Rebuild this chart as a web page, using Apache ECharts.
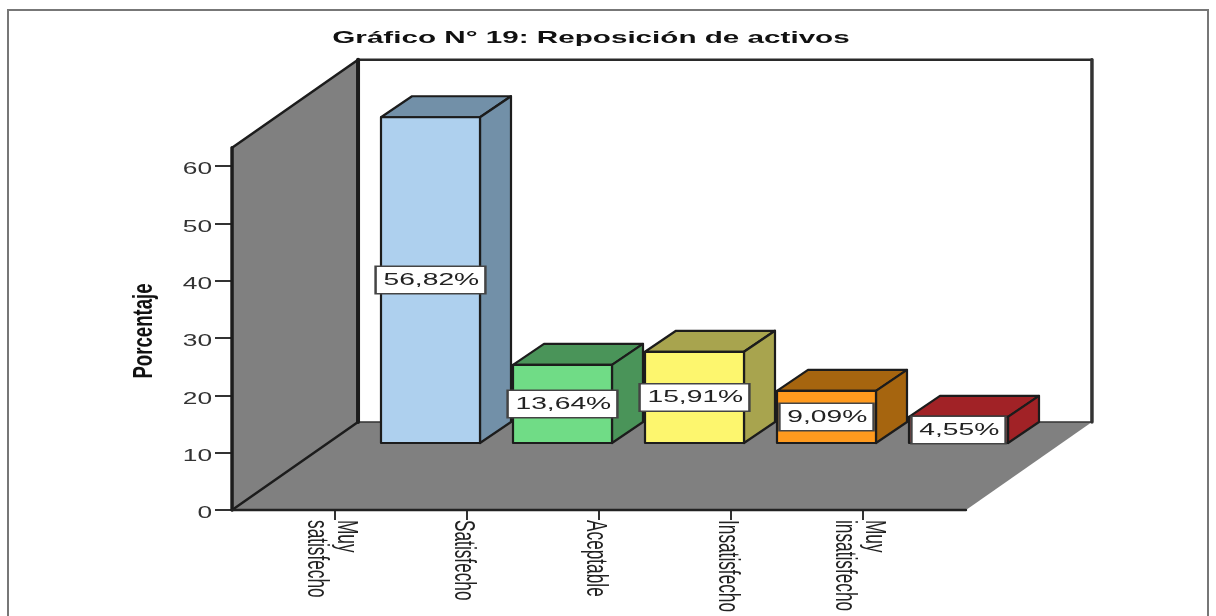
<!DOCTYPE html>
<html>
<head>
<meta charset="utf-8">
<title>Reposición de activos</title>
<style>
  html, body { margin: 0; padding: 0; background: #fff; }
  #chart { width: 1216px; height: 616px; }
</style>
<script src="https://cdn.jsdelivr.net/npm/echarts@6/dist/echarts.min.js"></script>
</head>
<body>
<div id="chart"></div>
<script>
var titleText = 'Gráfico N° 19: Reposición de activos'
var yAxisName = 'Porcentaje'
var categories = ['Muy\nsatisfecho', 'Satisfecho', 'Aceptable', 'Insatisfecho', 'Muy\ninsatisfecho']
var percentages = [56.82, 13.64, 15.91, 9.09, 4.55]
var yTicks = [0, 10, 20, 30, 40, 50, 60]
var wallTopValue = 63.2

var frontColors = ['#aed0ee', '#70dc86', '#fdf66e', '#ff9a1e', '#f03338']
var shadeColors = ['#7290a8', '#4a9459', '#a8a44e', '#a6650f', '#a12226']

// fake 3d offsets, in pixels
var floorDx = 126
var floorDy = -88
var barFrontDx = 95.5
var barFrontDy = -67
var barDepthDx = 31
var barDepthDy = -21
var barBandShare = 0.75
var floorPadBands = 0.78
var textStretch = 1.66

var edge = '#1c1c1c'

function poly(points, fill, stroke, width) {
  return {
    type: 'polygon',
    shape: { points: points },
    style: { fill: fill, stroke: stroke || 'none', lineWidth: width || 0, lineJoin: 'round' }
  }
}

function line(a, b, width, color) {
  return {
    type: 'line',
    shape: { x1: a[0], y1: a[1], x2: b[0], y2: b[1] },
    style: { stroke: color || edge, lineWidth: width, lineCap: 'round' }
  }
}

function renderFrame(params, api) {
  var band = api.size([1, 0])[0]
  var first = api.coord([0, 0])
  var last = api.coord([categories.length - 1, 0])
  var left = first[0] - floorPadBands * band
  var right = last[0] + floorPadBands * band
  var floorY = first[1]
  var topY = api.coord([0, wallTopValue])[1]
  var backLeft = left + floorDx
  var backRight = right + floorDx
  var backFloor = floorY + floorDy
  var backTop = topY + floorDy
  return {
    type: 'group',
    children: [
      poly([[backLeft, backTop], [backRight, backTop], [backRight, backFloor], [backLeft, backFloor]], '#fff'),
      poly([[left, floorY], [backLeft, backFloor], [backRight, backFloor], [right, floorY]], '#808080'),
      poly([[left, topY], [backLeft, backTop], [backLeft, backFloor], [left, floorY]], '#808080'),
      line([backLeft, backTop], [backRight, backTop], 2.5, '#2a2a2a'),
      line([backRight, backTop], [backRight, backFloor], 3.5, '#333'),
      line([backLeft, backFloor], [backRight, backFloor], 1.5, '#333'),
      line([left, topY], [backLeft, backTop], 2.5),
      line([backLeft, backTop], [backLeft, backFloor], 4),
      line([left, floorY], [backLeft, backFloor], 2.5),
      line([left, topY], [left, floorY], 3.5),
      line([left, floorY], [right, floorY], 2.5, '#222')
    ]
  }
}

function renderBar(params, api) {
  var i = api.value(0)
  var base = api.coord([i, 0])
  var top = api.coord([i, api.value(1)])
  var w = api.size([1, 0])[0] * barBandShare
  var x0 = base[0] + barFrontDx - w / 2
  var x1 = x0 + w
  var y0 = top[1] + barFrontDy
  var y1 = base[1] + barFrontDy
  var dx = barDepthDx
  var dy = barDepthDy
  var label = percentages[i].toFixed(2).replace('.', ',') + '%'
  return {
    type: 'group',
    children: [
      poly([[x0, y0], [x0 + dx, y0 + dy], [x1 + dx, y0 + dy], [x1, y0]], shadeColors[i], edge, 2.2),
      poly([[x1, y0], [x1 + dx, y0 + dy], [x1 + dx, y1 + dy], [x1, y1]], shadeColors[i], edge, 2.2),
      poly([[x0, y0], [x1, y0], [x1, y1], [x0, y1]], frontColors[i], edge, 2.2),
      {
        type: 'text',
        x: (x0 + x1) / 2,
        y: (y0 + y1) / 2,
        scaleX: textStretch,
        z2: 10,
        style: {
          text: label,
          font: '17px "Liberation Sans"',
          fill: '#222',
          align: 'center',
          verticalAlign: 'middle',
          backgroundColor: '#fff',
          borderColor: '#444',
          borderWidth: 1.5,
          padding: [6, 3, 3, 4]
        }
      }
    ]
  }
}

function renderTickLabel(params, api) {
  var band = api.size([1, 0])[0]
  var p = api.coord([0, api.value(1)])
  var left = p[0] - floorPadBands * band
  return {
    type: 'text',
    x: left - 20,
    y: p[1] + 3.5,
    scaleX: 1.55,
    style: {
      text: String(api.value(1)),
      font: '17px "Liberation Sans"',
      fill: '#333',
      align: 'right',
      verticalAlign: 'middle'
    }
  }
}

// rotated category labels, narrow along the run like the original
function renderCategoryLabel(params, api) {
  var i = api.value(0)
  var p = api.coord([i, 0])
  return {
    type: 'text',
    x: p[0] - 4,
    y: p[1] + 10,
    rotation: -Math.PI / 2,
    scaleX: 0.575,
    style: {
      text: categories[i],
      font: '30px "Liberation Sans"',
      fill: '#222',
      align: 'left',
      verticalAlign: 'middle',
      lineHeight: 30
    }
  }
}

var chart = echarts.init(document.getElementById('chart'))
chart.setOption({
  animation: false,
  backgroundColor: '#fff',
  graphic: [
    {
      type: 'rect',
      shape: { x: 8, y: 10, width: 1200, height: 620 },
      style: { fill: 'none', stroke: '#777', lineWidth: 2 },
      z: -1
    },
    {
      type: 'text',
      x: 591,
      y: 38,
      scaleX: 1.743,
      style: {
        text: titleText,
        font: 'bold 17px "Liberation Sans"',
        fill: '#111',
        align: 'center',
        verticalAlign: 'middle'
      },
      z: 5
    },
    {
      type: 'text',
      x: 144,
      y: 331,
      rotation: Math.PI / 2,
      scaleX: 0.665,
      style: {
        text: yAxisName,
        font: 'bold 28px "Liberation Sans"',
        fill: '#111',
        align: 'center',
        verticalAlign: 'middle'
      },
      z: 5
    }
  ],
  grid: { left: 269, width: 660, top: 166, height: 344, outerBoundsMode: 'none' },
  xAxis: {
    type: 'category',
    data: categories,
    axisLine: { show: false },
    axisTick: { show: true, alignWithLabel: true, length: 10, lineStyle: { color: '#333', width: 2 } },
    axisLabel: { show: false }
  },
  yAxis: {
    type: 'value',
    min: 0,
    max: 60,
    interval: 10,
    offset: 37,
    axisLine: { show: false },
    axisLabel: { show: false },
    axisTick: { show: true, length: 17, lineStyle: { color: '#333', width: 2 } },
    splitLine: { show: false }
  },
  series: [
    {
      name: 'marco',
      type: 'custom',
      renderItem: renderFrame,
      data: [[0, 0]],
      encode: { x: 0, y: 1 },
      silent: true,
      z: 1
    },
    {
      name: 'Porcentaje',
      type: 'custom',
      renderItem: renderBar,
      data: percentages.map(function(v, i) { return [i, v] }),
      encode: { x: 0, y: 1 },
      z: 2
    },
    {
      name: 'ticks',
      type: 'custom',
      renderItem: renderTickLabel,
      data: yTicks.map(function(v) { return [0, v] }),
      encode: { x: 0, y: 1 },
      silent: true,
      z: 3
    },
    {
      name: 'categorias',
      type: 'custom',
      renderItem: renderCategoryLabel,
      data: categories.map(function(c, i) { return [i, 0] }),
      encode: { x: 0, y: 1 },
      silent: true,
      z: 3
    }
  ]
})
</script>
</body>
</html>
